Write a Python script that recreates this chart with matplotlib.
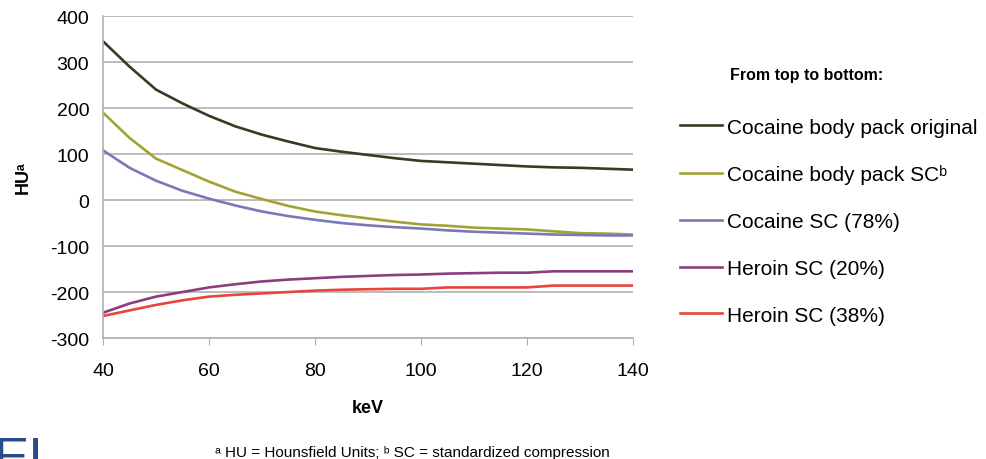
import numpy as np
import matplotlib.pyplot as plt

plt.rcParams['font.family'] = ['Liberation Sans', 'DejaVu Sans']
plt.rcParams['axes.unicode_minus'] = False

kev = [40, 45, 50, 55, 60, 65, 70, 75, 80, 85, 90, 95, 100, 105, 110, 115, 120, 125, 130, 135, 140]

coc_orig = [345, 290, 240, 210, 183, 160, 142, 127, 113, 105, 98, 91, 85, 82, 79, 76, 73, 71, 70, 68, 66]
coc_pack_sc = [190, 135, 90, 65, 40, 18, 2, -13, -25, -33, -40, -47, -53, -56, -60, -62, -64, -68, -72, -73, -75]
coc_sc = [108, 70, 42, 20, 3, -12, -25, -35, -43, -50, -55, -59, -62, -66, -69, -71, -73, -75, -76, -77, -77]
her_20 = [-245, -225, -210, -200, -190, -183, -177, -173, -170, -167, -165, -163, -162, -160, -159, -158, -158, -155, -155, -155, -155]
her_38 = [-252, -240, -228, -218, -210, -206, -203, -200, -197, -195, -194, -193, -193, -190, -190, -190, -190, -186, -186, -186, -186]

labels = ['Cocaine body pack original', 'Cocaine body pack SC\u1d47',
          'Cocaine SC (78%)', 'Heroin SC (20%)', 'Heroin SC (38%)']
colors = ['#323d22', '#a3a334', '#7a78b6', '#8c3d7d', '#e8453c']

fig = plt.figure(figsize=(9.86, 4.6), dpi=100)
ax = fig.add_axes([0.1045, 0.263, 0.5375, 0.7])

series = [coc_orig, coc_pack_sc, coc_sc, her_20, her_38]
for vals, lab, c in zip(series, labels, colors):
    ax.plot(kev, vals, color=c, lw=1.9, label=lab)

ax.set_xlim(40, 140)
ax.set_ylim(-300, 400)
ax.set_xticks([40, 60, 80, 100, 120, 140])
ax.set_yticks(range(-300, 401, 100))
ax.grid(axis='y', color='#b0b0b0', lw=1.2)
ax.set_axisbelow(True)
for s in ['top', 'right']:
    ax.spines[s].set_visible(False)
for s in ['left', 'bottom']:
    ax.spines[s].set_color('#b0b0b0')
    ax.spines[s].set_linewidth(1.2)
ax.tick_params(axis='x', length=5, color='#b0b0b0', labelsize=14, pad=12)
ax.tick_params(axis='y', length=0, labelsize=14, pad=10)

ax.set_xlabel('keV', fontsize=13, fontweight='bold', labelpad=15)
ax.set_ylabel('HU\u1d43', fontsize=13, fontweight='bold', labelpad=13)

fig.text(0.740, 0.836, 'From top to bottom:', fontsize=11.5, fontweight='bold', va='center')
fig.legend(loc='upper left', bbox_to_anchor=(0.690, 0.742), frameon=False,
           fontsize=15, handlelength=2.0, handletextpad=0.25, labelspacing=1.33,
           borderaxespad=0, borderpad=0)

fig.text(0.218, 0.0, '\u1d43 HU = Hounsfield Units; \u1d47 SC = standardized compression',
         fontsize=11, va='bottom')
fig.text(-0.006, 0.053, 'EI', fontsize=38, color='#2a4a8c', va='top')

fig.savefig('out.png', dpi=100)
